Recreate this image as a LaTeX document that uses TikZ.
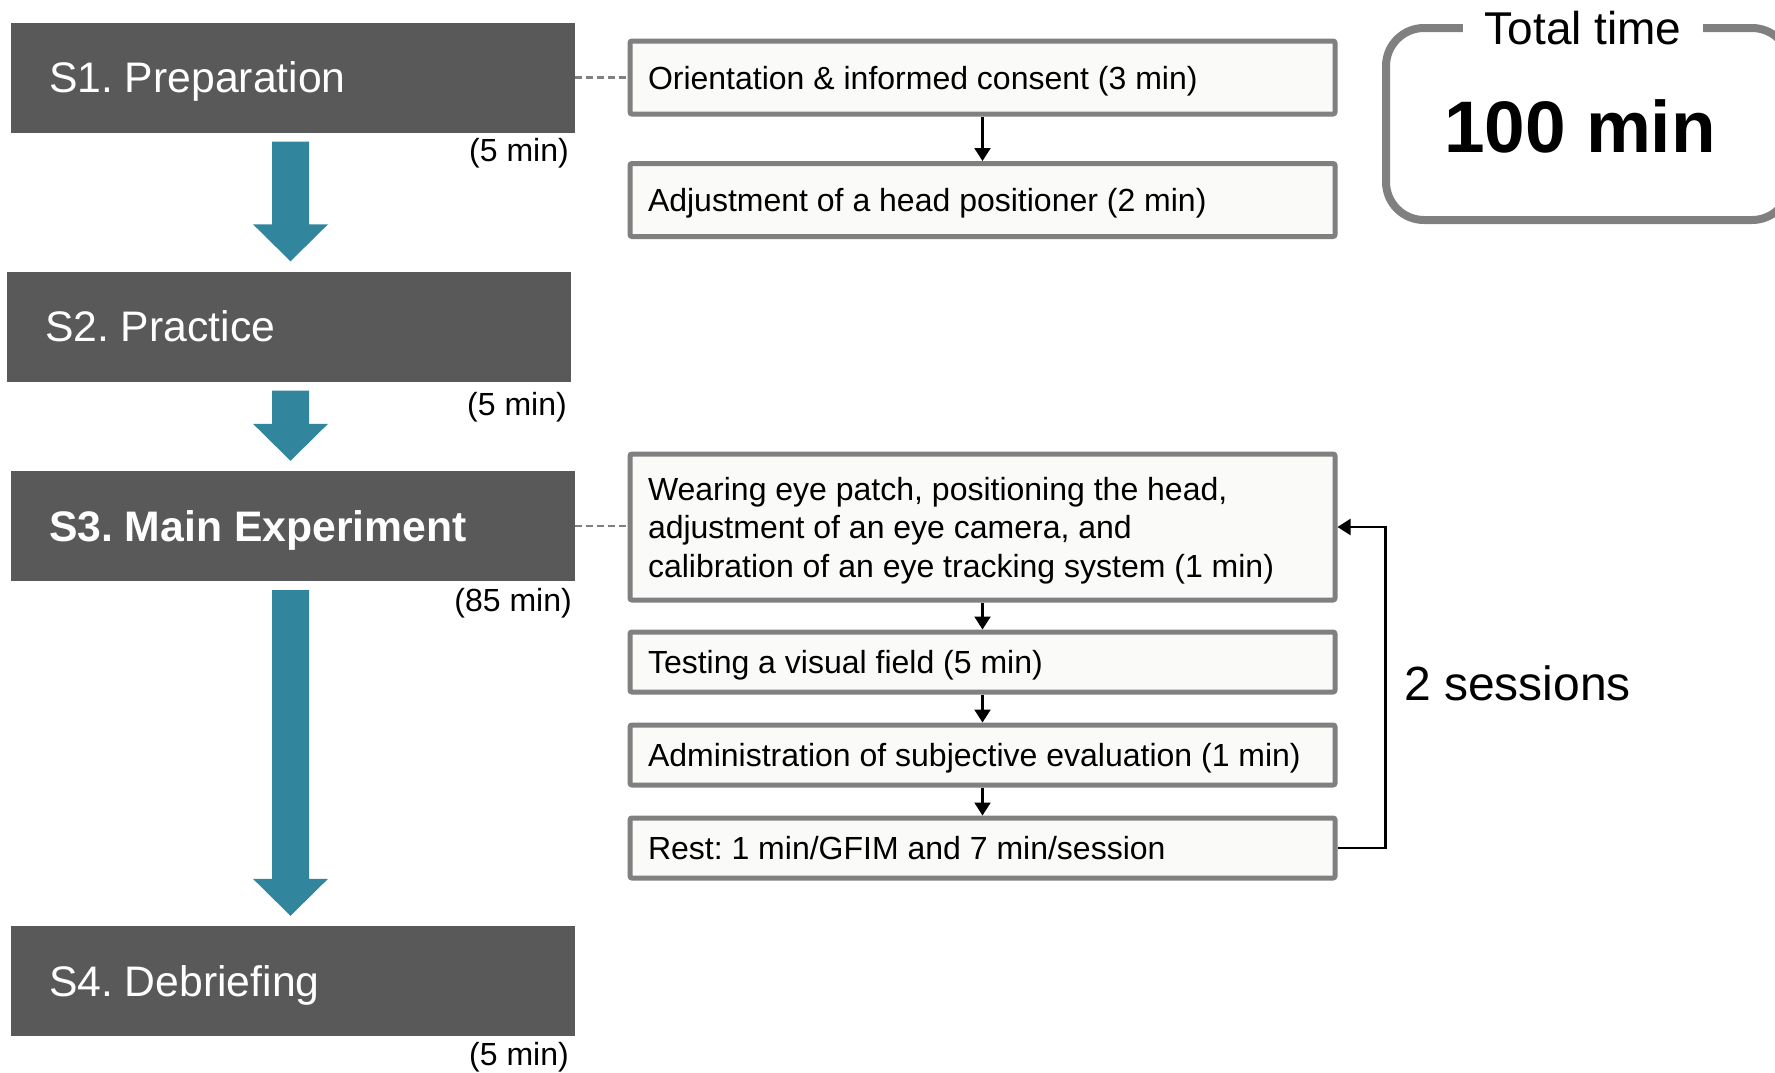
\documentclass[tikz,border=0pt]{standalone}
\usepackage{fontspec}
\setmainfont{Liberation Sans}
\usetikzlibrary{arrows.meta,calc}
\definecolor{darkbox}{HTML}{595959}
\definecolor{tealarr}{HTML}{31859C}
\definecolor{boxline}{HTML}{808080}
\definecolor{boxfill}{HTML}{FAFAF8}
\AtBeginDocument{\frenchspacing}
\newcommand\StageArrow[2]{\fill[tealarr] let \p1=(#1.south), \p2=(#2.north) in
  (272pt,\y1-9pt) -- (309pt,\y1-9pt) -- (309pt,\y2+47pt) -- (328pt,\y2+47pt) --
  (290.5pt,\y2+10pt) -- (253pt,\y2+47pt) -- (272pt,\y2+47pt) -- cycle;}
\begin{document}
\begin{tikzpicture}[x=1pt,y=-1pt,
  every node/.append style={execute at begin node={\frenchspacing\spaceskip=0pt\xspaceskip=0pt\relax}},
  stage/.style={fill=darkbox, text=white, minimum width=564pt, minimum height=110pt,
    inner xsep=38pt, inner ysep=0pt, text width=488pt, align=left,
    font=\fontsize{42.7}{50}\selectfont, text height=30.5pt, text depth=0pt},
  stagebold/.style={stage, font=\fontsize{42.7}{50}\selectfont\bfseries},
  dur/.style={anchor=east, inner sep=0pt, font=\fontsize{32}{38}\selectfont},
  taskbox/.style={draw=boxline, line width=5pt, fill=boxfill, rounded corners=2pt,
    minimum width=705pt, inner xsep=18pt, inner ysep=0pt, text width=669pt, align=left,
    font=\fontsize{32}{38.5}\selectfont},
  oneline/.style={taskbox, minimum height=60pt, text height=23pt, text depth=0pt},
  dashline/.style={draw=boxline, line width=2.8pt, dash pattern=on 7pt off 4pt},
  flow/.style={draw=black, line width=2.2pt, -{Triangle[length=13pt,width=16pt]}},
  totalbox/.style={draw=boxline, line width=8pt, rounded corners=38pt,
    minimum width=404pt, minimum height=192pt, inner sep=0pt},
]
\useasboundingbox (0,0) rectangle (1775,1072);

% stages
\node[stage] (S1) at (293,77.5) {S1. Preparation};
\node[stage] (S2) at (289,326.5) {S2. Practice};
\node[stagebold] (S3) at (293,526) {S3. Main Experiment};
\node[stage] (S4) at (293,981) {S4. Debriefing};

\node[dur] (d1) at (569,153.5) {(5 min)};
\node[dur] (d2) at (567,407.5) {(5 min)};
\node[dur] (d3) at (572,603.5) {(85 min)};
\node[dur] (d4) at (569,1057) {(5 min)};

\StageArrow{S1}{S2}
\StageArrow{S2}{S3}
\StageArrow{S3}{S4}

% tasks
\node[oneline, minimum height=73pt] (B1) at (982.5,77.5) {Orientation \& informed consent (3 min)};
\node[oneline, minimum height=73pt] (B2) at (982.5,200) {Adjustment of a head positioner (2 min)};
\node[taskbox, minimum height=146pt] (B3) at (982.5,527) {\rule{0pt}{30.5pt}Wearing eye patch, positioning the head,\\adjustment of an eye camera, and\\calibration of an eye tracking system (1 min)};
\node[oneline] (B4) at (982.5,662) {Testing a visual field (5 min)};
\node[oneline] (B5) at (982.5,755) {Administration of subjective evaluation (1 min)};
\node[oneline] (B6) at (982.5,848) {Rest: 1 min/GFIM and 7 min/session};

\draw[dashline] (S1.east) -- (S1.east -| B1.west);
\draw[dashline] (S3.east) -- (S3.east -| B3.west);

\draw[flow] (B1.south) -- (B2.north);
\draw[flow] (B3.south) -- (B4.north);
\draw[flow] (B4.south) -- (B5.north);
\draw[flow] (B5.south) -- (B6.north);
\draw[flow] (B6.east) -- ++(48,0) |- (B3.east);

\node[anchor=west, inner sep=0pt, font=\fontsize{48}{56}\selectfont] (sess) at (1404,683) {2 sessions};

% total time
\begin{scope}
\clip (0,0) rectangle (1775,1072);
\node[totalbox] (total) at (1588,124) {};
\end{scope}
\node[fill=white, inner xsep=22pt, inner ysep=2pt, font=\fontsize{46}{54}\selectfont] (tt) at (1583,28) {Total time};
\node[inner sep=0pt, font=\fontsize{73}{80}\selectfont\bfseries] (tv) at (1580,126) {100 min};
\end{tikzpicture}
\end{document}
